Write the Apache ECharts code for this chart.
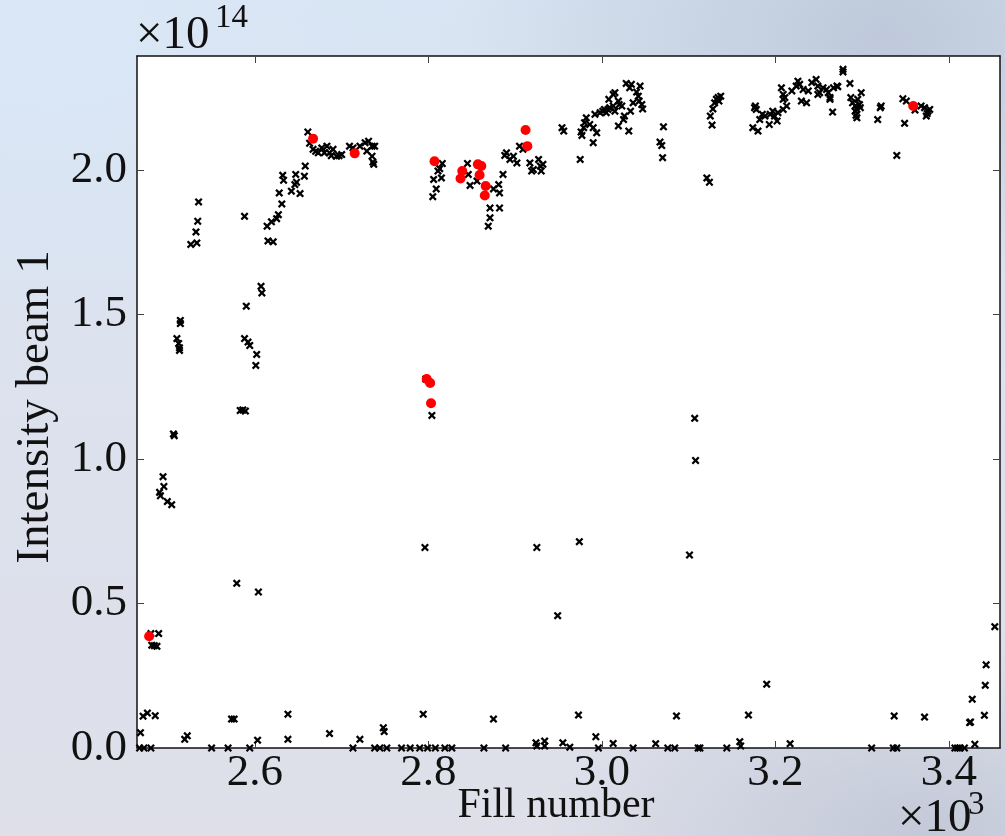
<!DOCTYPE html>
<html>
<head>
<meta charset="utf-8">
<script src="https://cdn.jsdelivr.net/npm/echarts@6/dist/echarts.min.js"></script>
<style>
html,body{margin:0;padding:0;}
body{
  width:1005px;height:836px;overflow:hidden;
  background:
    radial-gradient(ellipse 420px 260px at 88% 4%, rgba(168,178,198,0.55), rgba(168,178,198,0) 100%),
    radial-gradient(ellipse 380px 200px at 92% 100%, rgba(176,186,204,0.6), rgba(176,186,204,0) 100%),
    radial-gradient(ellipse 500px 300px at 5% 5%, rgba(218,231,246,0.95), rgba(218,231,246,0) 100%),
    linear-gradient(180deg, #d8e4f2 0%, #dce2ee 45%, #dedfe9 100%);
}
#chart{width:1005px;height:836px;}
</style>
</head>
<body>
<div id="chart"></div>
<script>
// Fill number vs intensity of beam 1 (in units of 1e14)
const xTicks = [2600, 2800, 3000, 3200, 3400];
const yTicks = [0, 0.5, 1.0, 1.5, 2.0];

const blackPoints = [
  [2467,0],[2472,0],[2480,0],[2468,0.053],[2471,0.11],[2476,0.121],[2485,0.112],
  [2480,0.396],[2489,0.396],[2481,0.356],[2484,0.354],[2487,0.352],
  [2494,0.939],[2495,0.905],[2490,0.885],[2491,0.873],[2499,0.853],[2504,0.842],
  [2506,1.087],[2507,1.081],
  [2510,1.417],[2512,1.40],[2513,1.385],[2513,1.376],[2514,1.48],[2514,1.469],
  [2526,1.743],[2533,1.748],[2532,1.786],[2534,1.823],[2535,1.89],
  [2519,0.03],[2522,0.042],[2550,0],[2569,0],[2573,0.1],[2576,0.1],[2579,0.57],
  [2583,1.168],[2586,1.17],[2589,1.166],[2588,1.84],[2590,1.529],[2588,1.417],[2592,1.405],
  [2594,1.393],[2602,1.362],[2601,1.324],[2604,0.54],[2594,0],[2603,0.027],
  [2607,1.598],[2608,1.575],[2614,1.806],[2615,1.755],[2621,1.752],[2619,1.821],[2625,1.832],
  [2627,1.846],[2628,1.921],[2631,1.883],[2632,1.982],[2633,1.965],[2638,0.117],[2638,0.03],
  [2642,1.927],[2646,1.95],[2648,1.958],[2652,1.919],[2647,1.985],[2657,1.979],[2658,2.014],
  [2661,2.132],[2663,2.093],[2667,2.072],[2670,2.065],[2673,2.06],[2677,2.077],[2680,2.06],
  [2683,2.083],[2686,2.06],[2688,2.05],[2690,2.072],[2694,2.048],[2697,2.05],[2700,2.054],[2686,0.05],
  [2709,2.083],[2713,2.077],[2721,2.083],[2727,2.095],[2731,2.1],[2735,2.083],[2738,2.083],
  [2729,2.066],[2735,2.048],[2736,2.028],[2737,2.02],
  [2713,0],[2721,0.03],[2748,0.07],[2749,0.057],[2738,0],[2744,0],[2752,0],[2769,0],[2779,0],
  [2790,0],[2794,0.117],[2799,0],[2808,0],[2819,0],[2827,0],
  [2797,1.277],[2804,1.151],[2796,0.694],[2816,2.023],[2813,2.005],[2811,1.997],[2815,1.973],
  [2806,1.968],[2809,1.935],[2805,1.908],[2845,2.023],[2846,1.985],[2848,1.947],[2856,1.962],
  [2875,1.935],[2881,1.95],[2882,1.921],[2886,1.985],[2871,1.869],[2882,1.869],[2871,1.835],
  [2869,1.806],[2864,0],[2875,0.1],[2889,0],
  [2888,2.051],[2890,2.06],[2894,2.037],[2898,2.048],[2902,2.025],[2905,2.083],[2909,2.072],
  [2917,2.025],[2921,2.002],[2927,2.037],[2929,2.014],[2932,2.02],[2930,1.997],[2919,1.997],
  [2924,0.018],[2925,0.007],[2934,0.024],[2934,0.007],[2925,0.694],[2949,0.458],[2955,0.018],
  [2963,0.003],[2954,2.147],[2956,2.135],
  [2974,0.714],[2973,0.114],[2993,0.039],[2996,0],[2975,2.037],[2977,2.12],[2976,2.132],
  [2979,2.147],[2980,2.164],[2982,2.181],[2986,2.158],[2990,2.147],[2994,2.129],[2990,2.095],
  [2992,2.193],[2998,2.199],[3001,2.204],[3005,2.199],[3003,2.21],[3007,2.21],[3009,2.216],
  [3013,2.222],[3015,2.204],[3008,2.245],[3013,2.262],[3015,2.268],[3019,2.239],[3020,2.227],
  [3023,2.222],[3019,2.153],[3025,2.175],[3026,2.187],[3031,2.135],[3028,2.3],[3034,2.297],
  [3032,2.285],[3036,2.233],[3033,2.204],[3040,2.27],[3042,2.256],[3044,2.291],[3043,2.239],
  [3046,2.227],[3047,2.212],
  [3013,0.016],[3036,0],[3062,0.015],[3076,0],[3084,0],[3086,0.111],[3111,0],[3113,0],
  [3071,2.15],[3067,2.097],[3069,2.085],[3070,2.043],[3107,1.141],[3108,0.995],[3101,0.668],
  [3121,1.973],[3124,1.958],[3127,2.156],[3125,2.187],[3128,2.212],[3130,2.233],[3132,2.245],
  [3134,2.251],[3137,2.256],[3135,2.239],
  [3144,0],[3159,0.022],[3160,0.007],[3169,0.114],[3190,0.221],[3217,0.015],
  [3174,2.147],[3180,2.135],[3176,2.216],[3178,2.21],[3177,2.222],[3182,2.175],[3185,2.193],
  [3188,2.187],[3194,2.193],[3193,2.158],[3197,2.204],[3199,2.187],[3202,2.17],[3203,2.199],
  [3209,2.21],[3213,2.222],[3207,2.285],[3209,2.262],[3209,2.245],[3211,2.251],
  [3219,2.274],[3224,2.291],[3226,2.308],[3228,2.297],[3232,2.279],[3230,2.239],[3236,2.233],
  [3238,2.274],[3242,2.303],[3247,2.314],[3249,2.291],[3251,2.268],[3249,2.262],[3255,2.285],
  [3259,2.279],[3261,2.268],[3263,2.251],[3263,2.245],[3267,2.285],[3271,2.291],[3272,2.289],
  [3266,2.201],[3278,2.349],[3278,2.34],[3286,2.3],
  [3287,2.251],[3289,2.233],[3292,2.222],[3292,2.204],[3293,2.19],[3294,2.181],[3295,2.245],
  [3297,2.227],[3299,2.268],[3298,2.216],[3294,2.21],
  [3318,2.175],[3322,2.222],[3321,2.216],[3340,2.051],[3347,2.247],[3351,2.239],[3349,2.162],
  [3361,2.208],[3368,2.222],[3372,2.216],[3374,2.187],[3376,2.204],[3378,2.21],[3375,2.196],
  [3311,0],[3337,0.111],[3336,0],[3340,0],[3372,0.107],[3407,0],[3410,0],[3413,0],[3418,0],
  [3430,0.013],[3424,0.088],[3425,0.09],[3427,0.169],[3441,0.113],[3442,0.217],[3443,0.288],[3453,0.42]
];

const redPoints = [
  [2478,0.387],[2667,2.109],[2715,2.058],[2807,2.031],[2798,1.277],[2802,1.263],[2803,1.193],
  [2839,1.997],[2837,1.971],[2857,2.02],[2861,2.014],[2859,1.983],[2866,1.945],[2865,1.912],
  [2912,2.139],[2914,2.083],[3359,2.222]
];

const X_MIN = 2464, X_MAX = 3459, Y_MIN = 0, Y_MAX = 2.395;
const SERIF = '"Liberation Serif","Times New Roman","DejaVu Serif",serif';

const crossPath = 'path://M0,2L2,0L5,3L8,0L10,2L7,5L10,8L8,10L5,7L2,10L0,8L3,5Z';

function axisBase(pos, isX, showLabel) {
  const ticks = isX ? xTicks : yTicks;
  return {
    type: 'value',
    position: pos,
    min: isX ? X_MIN : Y_MIN,
    max: isX ? X_MAX : Y_MAX,
    axisLine: { show: true, onZero: false, lineStyle: { color: '#111', width: 1.5 } },
    axisTick: { show: true, inside: true, length: 7, customValues: ticks, lineStyle: { color: '#444', width: 1 } },
    axisLabel: {
      show: showLabel,
      customValues: ticks,
      formatter: isX ? (v => (v / 1000).toFixed(1)) : (v => v.toFixed(1)),
      fontFamily: SERIF, fontSize: 45, color: '#111',
      margin: isX ? 3 : 10
    },
    splitLine: { show: false },
    minorTick: { show: false }
  };
}

const chart = echarts.init(document.getElementById('chart'), null, { renderer: 'canvas' });
chart.setOption({
  backgroundColor: 'transparent',
  animation: false,
  grid: { left: 137, top: 56, right: 5, bottom: 88, show: true, backgroundColor: '#ffffff', borderWidth: 0 },
  xAxis: [axisBase('bottom', true, true), axisBase('top', true, false)],
  yAxis: [axisBase('left', false, true), axisBase('right', false, false)],
  series: [
    { type: 'scatter', xAxisIndex: 0, yAxisIndex: 0, data: blackPoints, symbol: crossPath, symbolSize: 8,
      itemStyle: { color: '#000', opacity: 1 }, z: 2 },
    { type: 'scatter', xAxisIndex: 0, yAxisIndex: 0, data: redPoints, symbol: 'circle', symbolSize: 10,
      itemStyle: { color: '#ff0000', opacity: 1 }, z: 3 }
  ],
  graphic: [
    { type: 'text', left: 136, top: 12, style: { text: '×10', font: '47px ' + SERIF, fill: '#111' } },
    { type: 'text', left: 215, top: 2, style: { text: '14', font: '33px ' + SERIF, fill: '#111' } },
    { type: 'text', left: 898, top: 795, style: { text: '×10', font: '47px ' + SERIF, fill: '#111' } },
    { type: 'text', left: 968, top: 789, style: { text: '3', font: '33px ' + SERIF, fill: '#111' } },
    { type: 'text', x: 556, y: 806, style: { text: 'Fill number', font: '42px ' + SERIF, fill: '#111', textAlign: 'center', textVerticalAlign: 'middle' } },
    { type: 'text', x: 36, y: 407, rotation: Math.PI / 2, style: { text: 'Intensity beam 1', font: '47px ' + SERIF, fill: '#111', textAlign: 'center', textVerticalAlign: 'middle' } }
  ]
});
</script>
</body>
</html>
